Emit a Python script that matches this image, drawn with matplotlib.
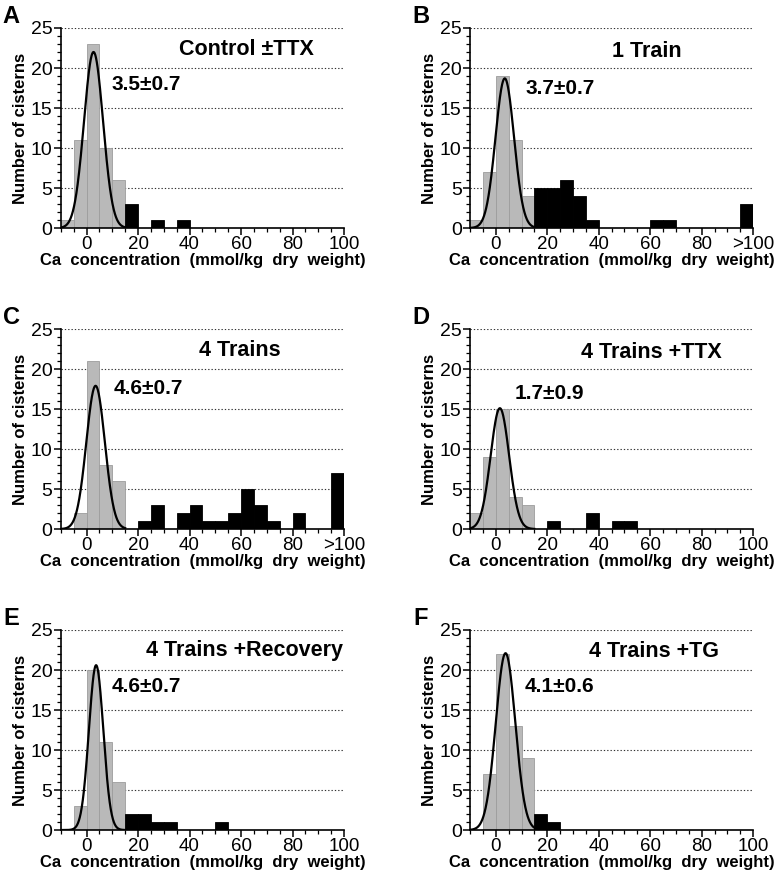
import numpy as np
import matplotlib.pyplot as plt
from matplotlib.ticker import MultipleLocator

plt.rcParams['font.family'] = ['Liberation Sans', 'DejaVu Sans']

# bin left edges, 5 mmol/kg wide, from -10 to 95
edges = np.arange(-10, 100, 5)

letters = ['A', 'B', 'C', 'D', 'E', 'F']
titles = ['Control \u00b1TTX', '1 Train', '4 Trains', '4 Trains +TTX',
          '4 Trains +Recovery', '4 Trains +TG']
means_txt = ['3.5\u00b10.7', '3.7\u00b10.7', '4.6\u00b10.7', '1.7\u00b10.9',
             '4.6\u00b10.7', '4.1\u00b10.6']

# counts per bin (22 bins: -10..95); first 5 bins are the gray (fitted) ones
counts_A = [1, 11, 23, 10, 6, 3, 0, 1, 0, 1, 0, 0, 0, 0, 0, 0, 0, 0, 0, 0, 0, 0]
counts_B = [1, 7, 19, 11, 4, 5, 5, 6, 4, 1, 0, 0, 0, 0, 1, 1, 0, 0, 0, 0, 0, 3]
counts_C = [0, 2, 21, 8, 6, 0, 1, 3, 0, 2, 3, 1, 1, 2, 5, 3, 1, 0, 2, 0, 0, 7]
counts_D = [2, 9, 15, 4, 3, 0, 1, 0, 0, 2, 0, 1, 1, 0, 0, 0, 0, 0, 0, 0, 0, 0]
counts_E = [0, 3, 20, 11, 6, 2, 2, 1, 1, 0, 0, 0, 1, 0, 0, 0, 0, 0, 0, 0, 0, 0]
counts_F = [0, 7, 22, 13, 9, 2, 1, 0, 0, 0, 0, 0, 0, 0, 0, 0, 0, 0, 0, 0, 0, 0]
all_counts = [counts_A, counts_B, counts_C, counts_D, counts_E, counts_F]

# gaussian fit: peak height, centre, sigma
fit_peak = [22.0, 18.7, 17.9, 15.1, 20.6, 22.1]
fit_mu = [2.7, 3.5, 3.5, 1.6, 3.7, 3.8]
fit_sd = [3.7, 3.6, 3.6, 3.6, 2.8, 3.8]

xlabels_default = ['0', '20', '40', '60', '80', '100']
xlabels_gt = ['0', '20', '40', '60', '80', '>100']
use_gt = [False, True, True, False, False, False]

# text positions (data coords)
title_xy = [(62, 22.3), (58.5, 22.1), (59.5, 22.3), (60.5, 22.1), (61.5, 22.5), (61.5, 22.3)]
mean_xy = [(9.8, 17.9), (11.4, 17.5), (10.6, 17.6), (7.5, 17.0), (9.8, 18.0), (11.4, 18.0)]

fig = plt.figure(figsize=(7.8, 8.75), dpi=100)
lefts = [0.078, 0.6026]
bottoms = [0.7394, 0.3954, 0.0514]
w, h = 0.363, 0.2286

for i in range(6):
    ax = fig.add_axes([lefts[i % 2], bottoms[i // 2], w, h])
    c = np.array(all_counts[i])
    gray = np.arange(len(c)) < 5
    ax.bar(edges[gray], c[gray], width=5, align='edge', color='#b9b9b9',
           edgecolor='#9c9c9c', linewidth=0.6, zorder=2)
    ax.bar(edges[~gray], c[~gray], width=5, align='edge', color='black',
           edgecolor='black', linewidth=0.6, zorder=2)
    xs = np.linspace(-10, 15, 300)
    ys = fit_peak[i] * np.exp(-0.5 * ((xs - fit_mu[i]) / fit_sd[i]) ** 2)
    ax.plot(xs, ys, color='black', lw=1.6, zorder=3)

    ax.set_xlim(-10, 100)
    ax.set_ylim(0, 25)
    for yv in [5, 10, 15, 20, 25]:
        ax.axhline(yv, color='#333333', lw=0.8, ls=(0, (1.2, 1.8)), zorder=1)
    ax.spines['top'].set_visible(False)
    ax.spines['right'].set_visible(False)
    ax.spines['left'].set_linewidth(1.2)
    ax.spines['bottom'].set_linewidth(1.2)
    ax.set_xticks([0, 20, 40, 60, 80, 100])
    ax.set_xticklabels(xlabels_gt if use_gt[i] else xlabels_default)
    ax.xaxis.set_minor_locator(MultipleLocator(5))
    ax.set_yticks([0, 5, 10, 15, 20, 25])
    ax.yaxis.set_minor_locator(MultipleLocator(1))
    ax.tick_params(axis='x', which='major', labelsize=13.5, length=5, width=1.1, pad=1)
    ax.tick_params(axis='y', which='major', labelsize=14, length=5, width=1.1, pad=1)
    ax.tick_params(axis='both', which='minor', length=3, width=0.9)
    ax.set_xlabel('Ca  concentration  (mmol/kg  dry  weight)', fontsize=12,
                  fontweight='bold', labelpad=0)
    ax.set_ylabel('Number of cisterns', fontsize=12, fontweight='bold', labelpad=2)
    ax.text(title_xy[i][0], title_xy[i][1], titles[i], fontsize=15.5,
            fontweight='bold', ha='center', va='center')
    ax.text(mean_xy[i][0], mean_xy[i][1], means_txt[i], fontsize=15,
            fontweight='bold', ha='left', va='center')
    ax.text(-0.175, 1.055, letters[i], transform=ax.transAxes, fontsize=17,
            fontweight='bold', ha='center', va='center')

fig.savefig('out.png', dpi=100)
